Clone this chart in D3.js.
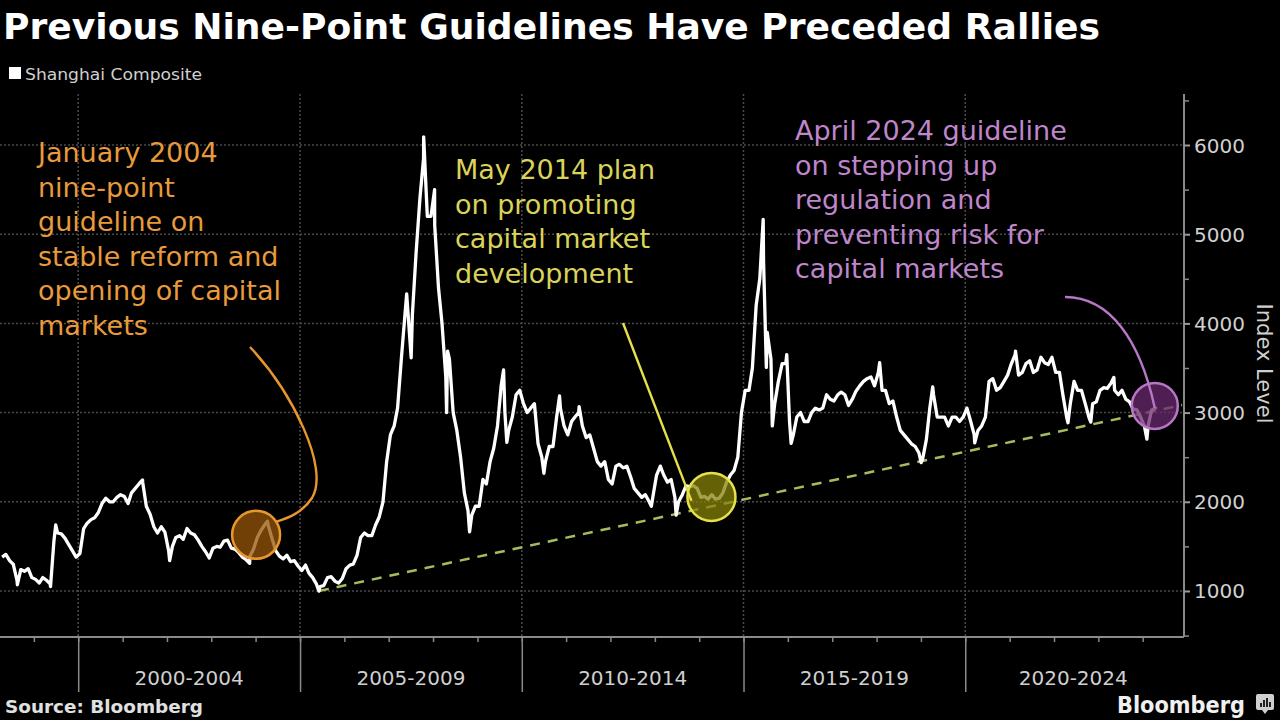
<!DOCTYPE html>
<html><head><meta charset="utf-8">
<script src="https://cdn.jsdelivr.net/npm/d3@7"></script>
<style>
html,body{margin:0;padding:0;background:#000;}
svg{display:block}
</style></head><body>
<svg id="chart" width="1280" height="720"></svg>
<script>
// ---------------- DATA ----------------
const titleText = "Previous Nine-Point Guidelines Have Preceded Rallies";
const seriesName = "Shanghai Composite";
const sourceText = "Source: Bloomberg";
const yAxisTitle = "Index Level";

// monthly levels (mid-month), starting April 1998
const monthlyStart = "1998-04";
const monthlyValues = [
  // 1998 Apr-Dec
  1380, 1410, 1340, 1300, 1120, 1240, 1220, 1250, 1150,
  // 1999
  1130, 1090, 1150, 1120, 1080, 1560, 1650, 1640, 1590, 1520, 1450, 1380,
  // 2000
  1420, 1700, 1760, 1800, 1820, 1880, 1980, 2040, 2000, 2000, 2050, 2080,
  // 2001
  2060, 1980, 2100, 2150, 2200, 2220, 1950, 1860, 1720, 1650, 1720, 1660,
  // 2002
  1450, 1500, 1600, 1620, 1580, 1700, 1650, 1630, 1570, 1500, 1440, 1370,
  // 2003
  1480, 1500, 1490, 1560, 1570, 1480, 1470, 1430, 1380, 1350, 1390, 1470,
  // 2004
  1600, 1680, 1740, 1730, 1590, 1450, 1390, 1360, 1400, 1330, 1340, 1280,
  // 2005
  1230, 1290, 1200, 1150, 1080, 1050, 1060, 1150, 1160, 1110, 1090, 1140,
  // 2006
  1250, 1290, 1300, 1400, 1600, 1650, 1620, 1620, 1740, 1830, 2000, 2450,
  // 2007
  2750, 2850, 3050, 3600, 4100, 4000, 4100, 4800, 5400, 5850, 5200, 5200,
  // 2008
  5100, 4400, 4000, 3400, 3600, 3000, 2800, 2500, 2100, 1900, 1850, 1950,
  // 2009
  1950, 2250, 2200, 2450, 2600, 2850, 3300, 3000, 2800, 2950, 3200, 3250,
  // 2010
  3100, 3000, 3050, 3100, 2650, 2500, 2450, 2620, 2620, 2950, 3050, 2850,
  // 2011
  2750, 2900, 2950, 3000, 2850, 2720, 2750, 2600, 2450, 2400, 2450, 2250,
  // 2012
  2200, 2400, 2420, 2380, 2400, 2280, 2150, 2100, 2050, 2080, 2000, 2050,
  // 2013
  2300, 2400, 2300, 2220, 2250, 2050, 2000, 2080, 2180, 2170, 2180, 2150,
  // 2014
  2050, 2060, 2030, 2080, 2030, 2040, 2100, 2220, 2300, 2350, 2500, 3000,
  // 2015
  3250, 3250, 3500, 4200, 4500, 4700, 3900, 3600, 3100, 3350, 3550, 3550,
  // 2016
  2900, 2750, 2950, 3000, 2900, 2900, 3000, 3050, 3030, 3050, 3200, 3150,
  // 2017
  3130, 3200, 3230, 3200, 3080, 3150, 3240, 3300, 3350, 3380, 3400, 3300,
  // 2018
  3450, 3250, 3250, 3100, 3130, 2950, 2800, 2750, 2700, 2650, 2620, 2550,
  // 2019
  2480, 2700, 3050, 3200, 2950, 2950, 2950, 2850, 2950, 2950, 2900, 2950,
  // 2020
  3050, 2900, 2750, 2800, 2850, 2950, 3350, 3380, 3250, 3280, 3350, 3420,
  // 2021
  3550, 3650, 3420, 3450, 3550, 3580, 3450, 3480, 3620, 3560, 3540, 3620,
  // 2022
  3450, 3450, 3200, 2950, 3100, 3350, 3250, 3250, 3100, 2950, 3100, 3120,
  // 2023
  3250, 3280, 3270, 3330, 3250, 3200, 3250, 3150, 3120, 3040, 3030, 2950,
  // 2024 Jan-Apr
  2850, 2850, 3030, 3050
];

// daily extremes visible on the chart
const extremeDates = [
  "1998-08-18","1999-05-18","1999-06-30","2001-06-14","2002-01-23","2003-11-13",
  "2004-04-07","2005-06-06","2007-05-29","2007-07-05","2007-10-16","2008-01-14",
  "2008-04-22","2008-04-30","2008-10-28","2009-08-04","2009-08-31","2010-07-02",
  "2010-11-08","2011-04-18","2012-12-03","2013-06-25","2015-06-12","2015-07-08",
  "2015-08-26","2015-12-23","2016-01-28","2018-01-26","2019-01-03","2019-04-08",
  "2020-03-19","2021-02-18","2022-04-26","2022-10-31","2023-05-09","2024-02-05",
  "2024-04-19"
];
const extremeValues = [
  1070, 1050, 1740, 2245, 1340, 1310,
  1783, 998, 4330, 3615, 6092, 5500,
  3000, 3690, 1664, 3478, 2667, 2320,
  3186, 3067, 1950, 1850, 5166, 3507,
  2850, 3650, 2656, 3560, 2440, 3288,
  2660, 3690, 2886, 2893, 3395, 2702,
  3065
];

const groupLabels = ["2000-2004","2005-2009","2010-2014","2015-2019","2020-2024"];
const groupStarts = ["2000-01-01","2005-01-01","2010-01-01","2015-01-01","2020-01-01"];
const groupEnds   = ["2005-01-01","2010-01-01","2015-01-01","2020-01-01","2024-11-20"];
const yTickValues = [1000, 2000, 3000, 4000, 5000, 6000];
const yMinorTicks = [500, 1500, 2500, 3500, 4500, 5500, 6500];

const annDates  = ["2004-01-05", "2014-04-12", "2024-04-10"];
const annValues = [1630, 2055, 3075];
const annTexts = [
  ["January 2004", "nine-point", "guideline on", "stable reform and", "opening of capital", "markets"],
  ["May 2014 plan", "on promoting", "capital market", "development"],
  ["April 2024 guideline", "on stepping up", "regulation and", "preventing risk for", "capital markets"]
];

const trendDates  = ["2005-06-06", "2024-11-20"];
const trendValues = [1000, 3085];

// ---------------- CHART ----------------
const svg = d3.select("#chart");
const W = 1280, H = 720;
svg.append("rect").attr("width", W).attr("height", H).attr("fill", "#000");

const parseDay = d3.timeParse("%Y-%m-%d");
const parseMonth = d3.timeParse("%Y-%m");

const data = [];
const m0 = parseMonth(monthlyStart);
monthlyValues.forEach((v, i) => {
  const d = d3.timeMonth.offset(m0, i);
  d.setDate(15);
  data.push({date: d, value: v});
});
extremeDates.forEach((s, i) => data.push({date: parseDay(s), value: extremeValues[i]}));
data.sort((a, b) => a.date - b.date);

const plot = {left: 0, right: 1182, top: 94, bottom: 637};
const x = d3.scaleTime()
  .domain([parseDay("1998-03-28"), parseDay("2024-11-20")])
  .range([plot.left, plot.right]);
const y = d3.scaleLinear().domain([484, 6572]).range([plot.bottom, plot.top]);

const grid = svg.append("g");
grid.selectAll("line.h").data(yTickValues).join("line")
  .attr("x1", plot.left).attr("x2", plot.right)
  .attr("y1", d => y(d)).attr("y2", d => y(d))
  .attr("stroke", "#4a4a4a").attr("stroke-width", 1.5).attr("stroke-dasharray", "2,2");
grid.selectAll("line.v").data(groupStarts).join("line")
  .attr("x1", d => x(parseDay(d))).attr("x2", d => x(parseDay(d)))
  .attr("y1", plot.top).attr("y2", plot.bottom)
  .attr("stroke", "#4a4a4a").attr("stroke-width", 1.5).attr("stroke-dasharray", "2,2");

// x axis: yearly minor ticks
const xAxisG = svg.append("g").attr("transform", `translate(0,${plot.bottom})`)
  .call(d3.axisBottom(x).ticks(d3.timeYear.every(1)).tickSize(5).tickFormat(""));
xAxisG.select(".domain").remove();
xAxisG.selectAll(".tick line").attr("stroke", "#8a8a8a").attr("stroke-width", 1.5);
const divG = svg.append("g").attr("transform", `translate(0,${plot.bottom})`)
  .call(d3.axisBottom(x).tickValues(groupStarts.map(parseDay)).tickSize(55).tickFormat(""));
divG.select(".domain").remove();
divG.selectAll(".tick line").attr("stroke", "#8a8a8a").attr("stroke-width", 1.5);
svg.append("line").attr("x1", plot.left).attr("x2", plot.right + 2)
  .attr("y1", plot.bottom).attr("y2", plot.bottom)
  .attr("stroke", "#8a8a8a").attr("stroke-width", 2);
svg.append("g").selectAll("text").data(groupLabels).join("text")
  .attr("x", (d, i) => {
    const a = x(parseDay(groupStarts[i])), b = x(parseDay(groupEnds[i]));
    return i === groupLabels.length - 1 ? a + 108 : (a + b) / 2;
  })
  .attr("y", 685)
  .attr("text-anchor", "middle")
  .attr("font-family", "DejaVu Sans, sans-serif").attr("font-size", 20)
  .attr("fill", "#cfcfcf")
  .text(d => d);

// y axis
const yAxisG = svg.append("g").attr("transform", `translate(${plot.right + 2},0)`)
  .call(d3.axisRight(y).tickValues(yTickValues).tickSize(6).tickPadding(4).tickFormat(d3.format("d")));
yAxisG.select(".domain").attr("stroke", "#8a8a8a").attr("stroke-width", 2)
  .attr("d", `M0,${plot.top}V${plot.bottom}`);
yAxisG.selectAll(".tick line").attr("stroke", "#9a9a9a").attr("stroke-width", 2);
yAxisG.selectAll(".tick text").attr("fill", "#d0d0d0")
  .attr("font-family", "DejaVu Sans, sans-serif").attr("font-size", 20).attr("dy", "0.35em");
const yMinorG = svg.append("g").attr("transform", `translate(${plot.right + 2},0)`)
  .call(d3.axisRight(y).tickValues(yMinorTicks).tickSize(5).tickFormat(""));
yMinorG.select(".domain").remove();
yMinorG.selectAll(".tick line").attr("stroke", "#8a8a8a").attr("stroke-width", 1.5);

svg.append("text")
  .attr("transform", `translate(1257,${(plot.top + plot.bottom) / 2 - 2}) rotate(90)`)
  .attr("text-anchor", "middle")
  .attr("font-family", "DejaVu Sans, sans-serif").attr("font-size", 21)
  .attr("fill", "#cfcfcf")
  .text(yAxisTitle);

// trend line
svg.append("line")
  .attr("x1", x(parseDay(trendDates[0]))).attr("y1", y(trendValues[0]))
  .attr("x2", x(parseDay(trendDates[1]))).attr("y2", y(trendValues[1]))
  .attr("stroke", "#a3bd5c").attr("stroke-width", 2.5).attr("stroke-dasharray", "10,8");

// main series line
const line = d3.line().x(d => x(d.date)).y(d => y(d.value));
svg.append("path").datum(data)
  .attr("d", line)
  .attr("fill", "none").attr("stroke", "#ffffff").attr("stroke-width", 3.3)
  .attr("stroke-linejoin", "round");

// annotation circles, callouts and texts
const annStyles = [
  {stroke: "#e8962e", fill: "rgba(150,85,10,0.75)", text: "#e89a3c", r: 24},
  {stroke: "#e6e04a", fill: "rgba(135,130,10,0.75)", text: "#d9d35a", r: 24},
  {stroke: "#b777c6", fill: "rgba(105,40,110,0.75)", text: "#bf86cc", r: 23}
];
const annPos = annDates.map((d, i) => ({cx: x(parseDay(d)), cy: y(annValues[i])}));

svg.append("g").selectAll("circle").data(annPos).join("circle")
  .attr("cx", d => d.cx).attr("cy", d => d.cy).attr("r", (d, i) => annStyles[i].r)
  .attr("fill", (d, i) => annStyles[i].fill)
  .attr("stroke", (d, i) => annStyles[i].stroke).attr("stroke-width", 2.5);

const p0 = annPos[0], p1 = annPos[1], p2 = annPos[2];
const callouts = [
  `M250,347 C292,392 330,468 312,498 C302,513 288,518 ${p0.cx + 20},${p0.cy - 13}`,
  `M623,323 L${p1.cx - 20},${p1.cy + 4}`,
  `M1065,297 C1110,297 1140,340 ${p2.cx},${p2.cy + 2}`
];
svg.append("g").selectAll("path").data(callouts).join("path")
  .attr("d", d => d).attr("fill", "none")
  .attr("stroke", (d, i) => annStyles[i].stroke).attr("stroke-width", 2.4);

const annTextPos = [{x: 38, y: 162}, {x: 455, y: 179}, {x: 795, y: 140}];
annTexts.forEach((lines, i) => {
  const t = svg.append("text")
    .attr("font-family", "DejaVu Sans, sans-serif").attr("font-size", 27)
    .attr("fill", annStyles[i].text);
  lines.forEach((ln, j) => {
    t.append("tspan").attr("x", annTextPos[i].x).attr("y", annTextPos[i].y + j * 34.5).text(ln);
  });
});

// title
svg.append("text").attr("x", 3).attr("y", 39)
  .attr("font-family", "DejaVu Sans, sans-serif").attr("font-weight", "bold")
  .attr("font-size", 35).attr("fill", "#ffffff")
  .attr("textLength", 1097).attr("lengthAdjust", "spacingAndGlyphs")
  .text(titleText);

// legend
svg.append("rect").attr("x", 9).attr("y", 67).attr("width", 12).attr("height", 12).attr("fill", "#ffffff");
svg.append("text").attr("x", 25).attr("y", 80)
  .attr("font-family", "DejaVu Sans, sans-serif").attr("font-size", 16)
  .attr("fill", "#d0d0d0")
  .attr("textLength", 177).attr("lengthAdjust", "spacingAndGlyphs")
  .text(seriesName);

// source
svg.append("text").attr("x", 5).attr("y", 713)
  .attr("font-family", "DejaVu Sans, sans-serif").attr("font-weight", "bold")
  .attr("font-size", 17).attr("fill", "#e0e0e0")
  .attr("textLength", 198).attr("lengthAdjust", "spacingAndGlyphs")
  .text(sourceText);

// Bloomberg logo
svg.append("text").attr("x", 1117).attr("y", 713)
  .attr("font-family", "DejaVu Sans, sans-serif").attr("font-weight", "bold")
  .attr("font-size", 23).attr("fill", "#f0f0f0")
  .attr("textLength", 128).attr("lengthAdjust", "spacingAndGlyphs")
  .text("Bloomberg");
const logo = svg.append("g").attr("transform", "translate(1256,694)");
logo.append("path").attr("d", "M2,0 H16 Q18,0 18,2 V14 Q18,16 16,16 H12 L9,20 L6,16 H2 Q0,16 0,14 V2 Q0,0 2,0 Z")
  .attr("fill", "#cfcfcf");
[[4,9,2],[7,6,2],[10,4,2],[13,8,2]].forEach(b => {
  logo.append("rect").attr("x", b[0]).attr("y", b[1]).attr("width", b[2]).attr("height", 13 - b[1]).attr("fill", "#222");
});
</script>
</body></html>
